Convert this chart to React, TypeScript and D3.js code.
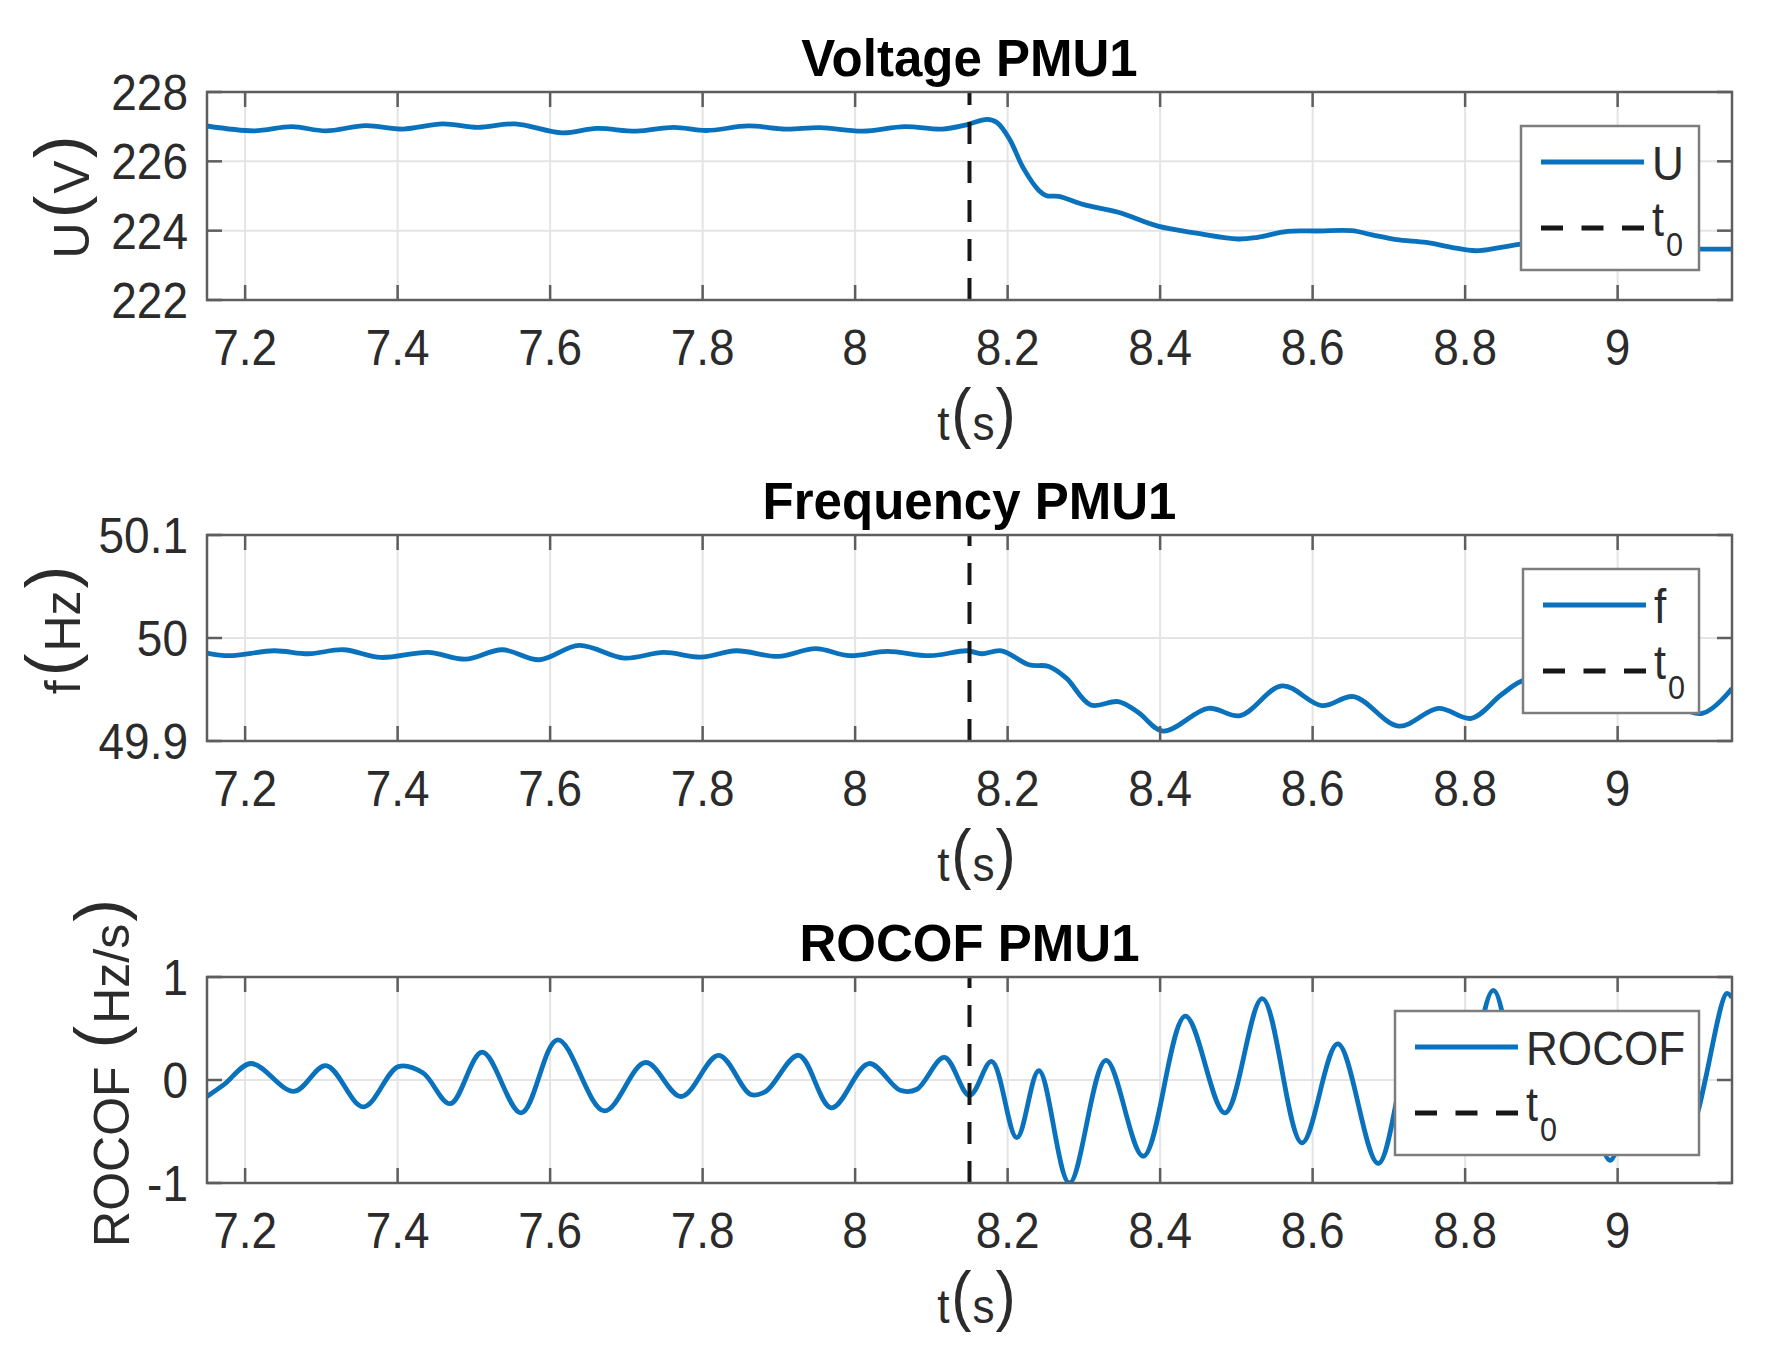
import React from 'react';
import * as d3 from 'd3';

// ---------- data ----------
const xDomain: [number, number] = [7.15, 9.15];
const xTicks = [7.2, 7.4, 7.6, 7.8, 8, 8.2, 8.4, 8.6, 8.8, 9];
const xTickLabels = ['7.2', '7.4', '7.6', '7.8', '8', '8.2', '8.4', '8.6', '8.8', '9'];
const t0 = 8.15;

const voltageTime = [7.150, 7.212, 7.261, 7.306, 7.358, 7.407, 7.459, 7.505, 7.554, 7.616, 7.661, 7.713, 7.762, 7.805, 7.860, 7.909, 7.954, 8.010, 8.065, 8.114, 8.147, 8.173, 8.186, 8.202, 8.221, 8.241, 8.251, 8.267, 8.300, 8.345, 8.397, 8.450, 8.502, 8.528, 8.567, 8.606, 8.651, 8.678, 8.710, 8.749, 8.782, 8.814, 8.847, 8.873, 8.920, 8.970, 9.030, 9.100, 9.150];
const voltageValues = [227.02, 226.88, 227.00, 226.88, 227.03, 226.93, 227.08, 226.98, 227.08, 226.82, 226.95, 226.87, 226.98, 226.89, 227.02, 226.93, 226.97, 226.87, 227.00, 226.93, 227.06, 227.21, 227.12, 226.66, 225.79, 225.16, 225.01, 224.99, 224.75, 224.53, 224.13, 223.92, 223.76, 223.81, 223.98, 223.99, 224.00, 223.88, 223.74, 223.66, 223.52, 223.42, 223.52, 223.61, 223.68, 223.62, 223.52, 223.47, 223.47];

const freqTime = [7.150, 7.179, 7.238, 7.283, 7.329, 7.378, 7.440, 7.489, 7.537, 7.586, 7.638, 7.697, 7.749, 7.798, 7.844, 7.899, 7.948, 7.993, 8.042, 8.098, 8.147, 8.166, 8.192, 8.228, 8.254, 8.277, 8.309, 8.345, 8.371, 8.404, 8.463, 8.505, 8.560, 8.612, 8.654, 8.713, 8.765, 8.808, 8.847, 8.873, 8.900, 8.950, 9.000, 9.050, 9.111, 9.150];
const freqValues = [49.9854, 49.9828, 49.9876, 49.9847, 49.9886, 49.9811, 49.9860, 49.9795, 49.9886, 49.9789, 49.9928, 49.9805, 49.9860, 49.9815, 49.9876, 49.9821, 49.9896, 49.9828, 49.9870, 49.9828, 49.9876, 49.9847, 49.9876, 49.9740, 49.9724, 49.9610, 49.9350, 49.9382, 49.9280, 49.9096, 49.9317, 49.9246, 49.9535, 49.9343, 49.9431, 49.9145, 49.9317, 49.9220, 49.9447, 49.9577, 49.9620, 49.9480, 49.9350, 49.9420, 49.9268, 49.9510];

const rocofTime = [7.150, 7.173, 7.208, 7.264, 7.306, 7.355, 7.401, 7.433, 7.469, 7.511, 7.562, 7.610, 7.671, 7.725, 7.772, 7.821, 7.863, 7.883, 7.926, 7.969, 8.018, 8.059, 8.081, 8.117, 8.150, 8.179, 8.212, 8.241, 8.281, 8.329, 8.378, 8.433, 8.485, 8.534, 8.586, 8.633, 8.686, 8.735, 8.786, 8.837, 8.886, 8.940, 8.990, 9.040, 9.090, 9.143, 9.150];
const rocofValues = [-0.16, -0.04, 0.16, -0.11, 0.14, -0.26, 0.13, 0.07, -0.23, 0.27, -0.32, 0.39, -0.30, 0.17, -0.16, 0.24, -0.14, -0.11, 0.24, -0.27, 0.16, -0.10, -0.09, 0.22, -0.15, 0.18, -0.56, 0.09, -1.00, 0.19, -0.74, 0.62, -0.32, 0.79, -0.61, 0.35, -0.81, 0.45, -0.60, 0.87, -0.65, 0.60, -0.78, 0.50, -0.55, 0.84, 0.80];

const titles = ['Voltage PMU1', 'Frequency PMU1', 'ROCOF PMU1'];
const legendLabels = ['U', 'f', 'ROCOF'];
const yLabelNames = ['U', 'f', 'ROCOF '];
const yLabelUnits = ['V', 'Hz', 'Hz/s'];
const yDomains: [number, number][] = [[222, 228], [49.9, 50.1], [-1, 1]];
const yTicks = [[222, 224, 226, 228], [49.9, 50, 50.1], [-1, 0, 1]];
const yTickLabels = [['222', '224', '226', '228'], ['49.9', '50', '50.1'], ['-1', '0', '1']];
const seriesTimes = [voltageTime, freqTime, rocofTime];
const seriesValues = [voltageValues, freqValues, rocofValues];

// ---------- layout / style ----------
const W = 1782;
const H = 1350;
const PLOT_LEFT = 207;
const PLOT_RIGHT = 1732;
const layout = [
  { top: 92, bottom: 300, ylabX: 89, ylabY: 197, legendW: 178 },
  { top: 535, bottom: 741, ylabX: 80, ylabY: 630, legendW: 176 },
  { top: 977, bottom: 1183, ylabX: 129, ylabY: 1073, legendW: 304 },
];
const FONT = '"Liberation Sans", Arial, Helvetica, sans-serif';
const BLUE = '#0a72bd';
const AXIS = '#5e5e5e';
const GRID = '#e4e4e4';
const TXT = '#2b2b2b';
const TICK_LEN = 15;
const LEGEND_RIGHT = 1699;

function HText(props: {
  x: number; y: number; anchor?: string; size: number; weight?: string | number;
  sx?: number; fill?: string; children: React.ReactNode;
}) {
  const { x, y, anchor = 'start', size, weight = 'normal', sx = 0.92, fill = TXT, children } = props;
  return (
    <text
      transform={`translate(${x},${y}) scale(${sx},1)`}
      textAnchor={anchor as any}
      fontSize={size}
      fontWeight={weight as any}
      fontFamily={FONT}
      fill={fill}
    >
      {children}
    </text>
  );
}

function Panel({ i }: { i: number }) {
  const L = layout[i];
  const x = d3.scaleLinear().domain(xDomain).range([PLOT_LEFT, PLOT_RIGHT]);
  const y = d3.scaleLinear().domain(yDomains[i]).range([L.bottom, L.top]);
  const pts: [number, number][] = seriesTimes[i].map((t, k) => [t, seriesValues[i][k]]);
  const line = d3
    .line<[number, number]>()
    .x((d) => x(d[0]))
    .y((d) => y(d[1]))
    .curve(d3.curveCatmullRom.alpha(0.5));
  const clipId = `clip${i}`;
  const cx = (PLOT_LEFT + PLOT_RIGHT) / 2;

  const lgLeft = LEGEND_RIGHT - L.legendW;
  const lgTop = L.top + 34;
  const lgH = 144;
  const lineY = lgTop + 36;
  const dashY = lgTop + 102;
  const sampleX0 = lgLeft + 20;
  const sampleX1 = lgLeft + 123;
  const textX = lgLeft + 131;

  return (
    <g>
      <defs>
        <clipPath id={clipId}>
          <rect x={PLOT_LEFT} y={L.top} width={PLOT_RIGHT - PLOT_LEFT} height={L.bottom - L.top} />
        </clipPath>
      </defs>
      <rect x={PLOT_LEFT} y={L.top} width={PLOT_RIGHT - PLOT_LEFT} height={L.bottom - L.top} fill="#fff" />
      {/* grid */}
      {xTicks.map((t) => (
        <line key={`gx${t}`} x1={x(t)} x2={x(t)} y1={L.top} y2={L.bottom} stroke={GRID} strokeWidth={2} />
      ))}
      {yTicks[i].map((v) => (
        <line key={`gy${v}`} x1={PLOT_LEFT} x2={PLOT_RIGHT} y1={y(v)} y2={y(v)} stroke={GRID} strokeWidth={2} />
      ))}
      {/* data */}
      <path d={line(pts) || ''} fill="none" stroke={BLUE} strokeWidth={4.8} strokeLinejoin="round" clipPath={`url(#${clipId})`} />
      {/* t0 */}
      <line x1={x(t0)} x2={x(t0)} y1={L.bottom} y2={L.top} stroke="#161616" strokeWidth={4} strokeDasharray="22 17" />
      {/* axes box + ticks */}
      <rect x={PLOT_LEFT} y={L.top} width={PLOT_RIGHT - PLOT_LEFT} height={L.bottom - L.top} fill="none" stroke={AXIS} strokeWidth={2.5} />
      {xTicks.map((t) => (
        <g key={`tx${t}`}>
          <line x1={x(t)} x2={x(t)} y1={L.bottom} y2={L.bottom - TICK_LEN} stroke={AXIS} strokeWidth={2.5} />
          <line x1={x(t)} x2={x(t)} y1={L.top} y2={L.top + TICK_LEN} stroke={AXIS} strokeWidth={2.5} />
        </g>
      ))}
      {yTicks[i].map((v) => (
        <g key={`ty${v}`}>
          <line x1={PLOT_LEFT} x2={PLOT_LEFT + TICK_LEN} y1={y(v)} y2={y(v)} stroke={AXIS} strokeWidth={2.5} />
          <line x1={PLOT_RIGHT} x2={PLOT_RIGHT - TICK_LEN} y1={y(v)} y2={y(v)} stroke={AXIS} strokeWidth={2.5} />
        </g>
      ))}
      {/* legend */}
      <rect x={lgLeft} y={lgTop} width={L.legendW} height={lgH} fill="#fff" stroke="#7d7d7d" strokeWidth={2.5} />
      <line x1={sampleX0} x2={sampleX1} y1={lineY} y2={lineY} stroke={BLUE} strokeWidth={4.8} />
      <HText x={textX} y={lineY + 18} size={49} sx={0.9}>{legendLabels[i]}</HText>
      <line x1={sampleX0} x2={sampleX1} y1={dashY} y2={dashY} stroke="#161616" strokeWidth={4.8} strokeDasharray="22 18.5" />
      <HText x={textX} y={dashY + 8} size={48} sx={0.9}>t</HText>
      <HText x={textX + 14} y={dashY + 28} size={34} sx={0.9}>0</HText>
      {/* tick labels */}
      {xTicks.map((t, k) => (
        <HText key={`lx${t}`} x={x(t)} y={L.bottom + 65} anchor="middle" size={50}>{xTickLabels[k]}</HText>
      ))}
      {yTicks[i].map((v, k) => (
        <HText key={`ly${v}`} x={PLOT_LEFT - 19} y={y(v) + 18} anchor="end" size={50}>{yTickLabels[i][k]}</HText>
      ))}
      {/* title */}
      <HText x={cx} y={L.top - 16} anchor="middle" size={51} weight="bold" sx={1} fill="#000">{titles[i]}</HText>
      {/* x label */}
      <text
        transform={`translate(${cx + 7},${L.bottom + 140}) scale(0.92,1)`}
        textAnchor="middle"
        fontFamily={FONT}
        fontSize={48}
        fill={TXT}
      >
        <tspan>t</tspan>
        <tspan fontSize={66} dy={-5} dx={2}>(</tspan>
        <tspan dy={5} dx={1}>s</tspan>
        <tspan fontSize={66} dy={-5} dx={1}>)</tspan>
      </text>
      {/* y label */}
      <text
        transform={`translate(${L.ylabX},${L.ylabY}) rotate(-90)`}
        textAnchor="middle"
        fontFamily={FONT}
        fontSize={50}
        fill={TXT}
      >
        <tspan>{yLabelNames[i]}</tspan>
        <tspan fontSize={68} dy={-6} dx={4}>(</tspan>
        <tspan dy={6} dx={2}>{yLabelUnits[i]}</tspan>
        <tspan fontSize={68} dy={-6} dx={2}>)</tspan>
      </text>
    </g>
  );
}

export default function App() {
  return (
    <svg
      width={W}
      height={H}
      viewBox={`0 0 ${W} ${H}`}
      style={{ position: 'absolute', left: 0, top: 0, background: '#fff' }}
    >
      <rect x={0} y={0} width={W} height={H} fill="#fff" />
      {[0, 1, 2].map((i) => (
        <Panel key={i} i={i} />
      ))}
    </svg>
  );
}
